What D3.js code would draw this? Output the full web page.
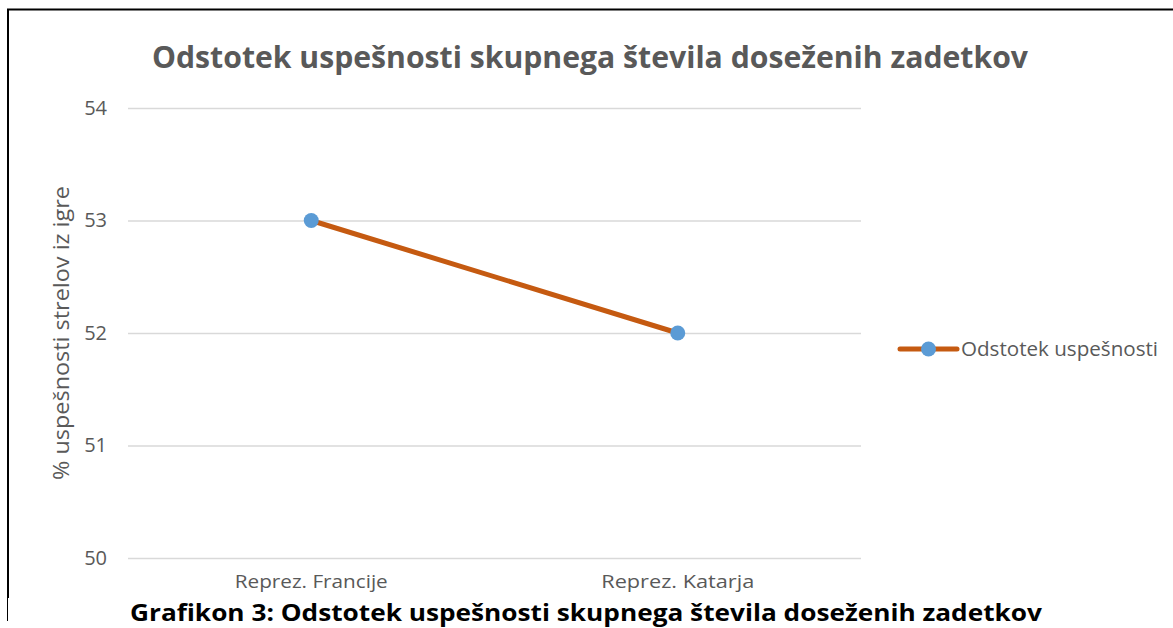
<!doctype html>
<html>
<head>
<meta charset="UTF-8">
<script src="https://cdn.jsdelivr.net/npm/d3@7"></script>
<style>
  body { margin: 0; background: #fff; }
  text { font-family: "Open Sans", "DejaVu Sans", sans-serif; }
</style>
</head>
<body>
<svg id="chart" width="1173" height="628"></svg>
<script>
const categories = ["Reprez. Francije", "Reprez. Katarja"];
const values = [53, 52];
const yTicks = [50, 51, 52, 53, 54];
const seriesName = "Odstotek uspešnosti";
const title = "Odstotek uspešnosti skupnega števila doseženih zadetkov";
const yTitle = "% uspešnosti strelov iz igre";
const caption = "Grafikon 3: Odstotek uspešnosti skupnega števila doseženih zadetkov";

const svg = d3.select("#chart");
const grey = "#595959";

// chart is cut off a bit above the caption
svg.append("defs").append("clipPath").attr("id", "cut")
  .append("rect").attr("x", 0).attr("y", 0).attr("width", 1173).attr("height", 598);

const g = svg.append("g").attr("clip-path", "url(#cut)");

const x = d3.scaleBand().domain(categories).range([128, 861]);
const y = d3.scaleLinear().domain([50, 54]).range([558, 108]);

// frame
g.append("line").attr("x1", 7).attr("x2", 1173).attr("y1", 9.5).attr("y2", 9.5)
  .attr("stroke", "#000").attr("stroke-width", 2);
g.append("line").attr("x1", 8).attr("x2", 8).attr("y1", 9).attr("y2", 598)
  .attr("stroke", "#000").attr("stroke-width", 2);
svg.append("line").attr("x1", 7.5).attr("x2", 7.5).attr("y1", 596).attr("y2", 621)
  .attr("stroke", "#000").attr("stroke-width", 1);

g.append("text").attr("x", 590).attr("y", 68).attr("text-anchor", "middle")
  .attr("font-size", 30).attr("font-weight", "bold").attr("fill", grey)
  .attr("textLength", 876).attr("lengthAdjust", "spacingAndGlyphs").text(title);

// grid + y labels
const yAxis = d3.axisLeft(y).tickValues(yTicks).tickFormat(d3.format("d"))
  .tickSize(-(861 - 128)).tickPadding(21);
const ya = g.append("g").attr("transform", "translate(128,0)").call(yAxis);
ya.select(".domain").remove();
ya.selectAll(".tick line").attr("stroke", "#d9d9d9").attr("stroke-width", 1.3);
ya.selectAll(".tick text").attr("fill", grey).attr("font-size", 20)
  .attr("font-family", "'Open Sans', sans-serif");

// x labels (cut off at the bottom like the original)
const xAxis = d3.axisBottom(x).tickSize(0).tickPadding(17);
const xa = g.append("g").attr("transform", "translate(0,558)").call(xAxis);
xa.select(".domain").remove();
xa.selectAll(".tick text").attr("fill", grey).attr("font-size", 19)
  .attr("font-family", "'Open Sans', sans-serif")
  .attr("textLength", 153).attr("lengthAdjust", "spacingAndGlyphs");

g.append("text").attr("transform", "translate(69,333) rotate(-90)")
  .attr("text-anchor", "middle").attr("font-size", 21).attr("fill", grey)
  .attr("textLength", 294).attr("lengthAdjust", "spacingAndGlyphs").text(yTitle);

const pts = categories.map((c, i) => [x(c) + x.bandwidth() / 2, y(values[i])]);
g.append("path").attr("d", d3.line()(pts)).attr("fill", "none")
  .attr("stroke", "#C55A11").attr("stroke-width", 5).attr("stroke-linecap", "round");
g.selectAll("circle.pt").data(pts).join("circle").attr("class", "pt")
  .attr("cx", d => d[0]).attr("cy", d => d[1]).attr("r", 7.5).attr("fill", "#5B9BD5");

// legend
const lg = g.append("g").attr("transform", "translate(900,349)");
lg.append("line").attr("x1", 0).attr("x2", 57).attr("stroke", "#C55A11")
  .attr("stroke-width", 5).attr("stroke-linecap", "round");
lg.append("circle").attr("cx", 28.5).attr("r", 7.5).attr("fill", "#5B9BD5");
lg.append("text").attr("x", 61).attr("y", 7).attr("font-size", 20).attr("fill", grey)
  .attr("textLength", 197).attr("lengthAdjust", "spacingAndGlyphs").text(seriesName);

svg.append("text").attr("x", 586).attr("y", 621).attr("text-anchor", "middle")
  .attr("font-size", 23).attr("font-weight", "bold").attr("fill", "#000")
  .attr("textLength", 912).attr("lengthAdjust", "spacingAndGlyphs").text(caption);
</script>
</body>
</html>
